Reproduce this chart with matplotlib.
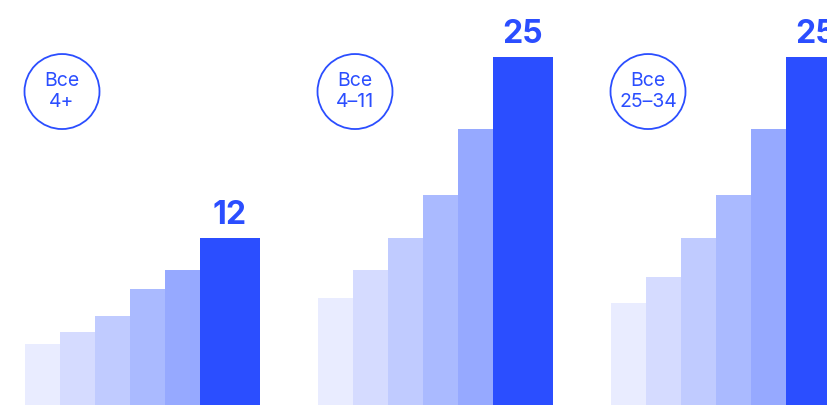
import matplotlib
matplotlib.use("Agg")
import matplotlib.pyplot as plt
from matplotlib.transforms import blended_transform_factory

# подписи групп (в кружках)
groups = ["Все\n4+", "Все\n4–11", "Все\n25–34"]

# значения столбиков, по группам
values_4plus = [4.4, 5.25, 6.4, 8.3, 9.7, 12]
values_4_11 = [7.7, 9.7, 12, 15.1, 19.8, 25]
values_25_34 = [7.35, 9.2, 12, 15.1, 19.8, 25]
all_values = [values_4plus, values_4_11, values_25_34]

colorlist = ["#E9ECFF", "#D5DBFF", "#C0CBFF", "#AABAFF", "#96A9FF", "#2B4EFF"]
accent = "#2B4EFF"

# раскладка в пикселях
W, H = 827, 405
px_per_unit = 13.92
group_start = 25
group_pitch = 293
bar_w = 35
last_w = 60

fig = plt.figure(figsize=(W / 100, H / 100), dpi=100)
ax = fig.add_axes([0, 0, 1, 1])
ax.set_xlim(0, W)
ax.set_ylim(0, H / px_per_unit)
ax.axis("off")

trans = blended_transform_factory(ax.transData, ax.transAxes)

for g, (label, vals) in enumerate(zip(groups, all_values)):
    x0 = group_start + g * group_pitch
    xs = [x0 + i * bar_w for i in range(len(vals))]
    widths = [bar_w] * (len(vals) - 1) + [last_w]
    ax.bar(xs, vals, width=widths, align="edge", color=colorlist, linewidth=0)

    # подпись последнего столбика
    xc = xs[-1] + last_w / 2
    ax.annotate(f"{vals[-1]:g}", (xc, vals[-1]), xytext=(0, 10),
                textcoords="offset points", ha="center", va="baseline",
                fontsize=23, fontweight="bold", color=accent,
                family=["Inter", "DejaVu Sans"], annotation_clip=False)

    # кружок с названием группы
    cx = x0 + 37
    ax.scatter([cx], [0.774], s=54 ** 2, facecolors="none",
               edgecolors=accent, linewidths=1.3, transform=trans)
    ax.text(cx, 0.774, label, transform=trans, ha="center", va="center",
            fontsize=14, color=accent, linespacing=1.22,
            family=["Inter", "DejaVu Sans"])

plt.savefig("out.png", dpi=100)
